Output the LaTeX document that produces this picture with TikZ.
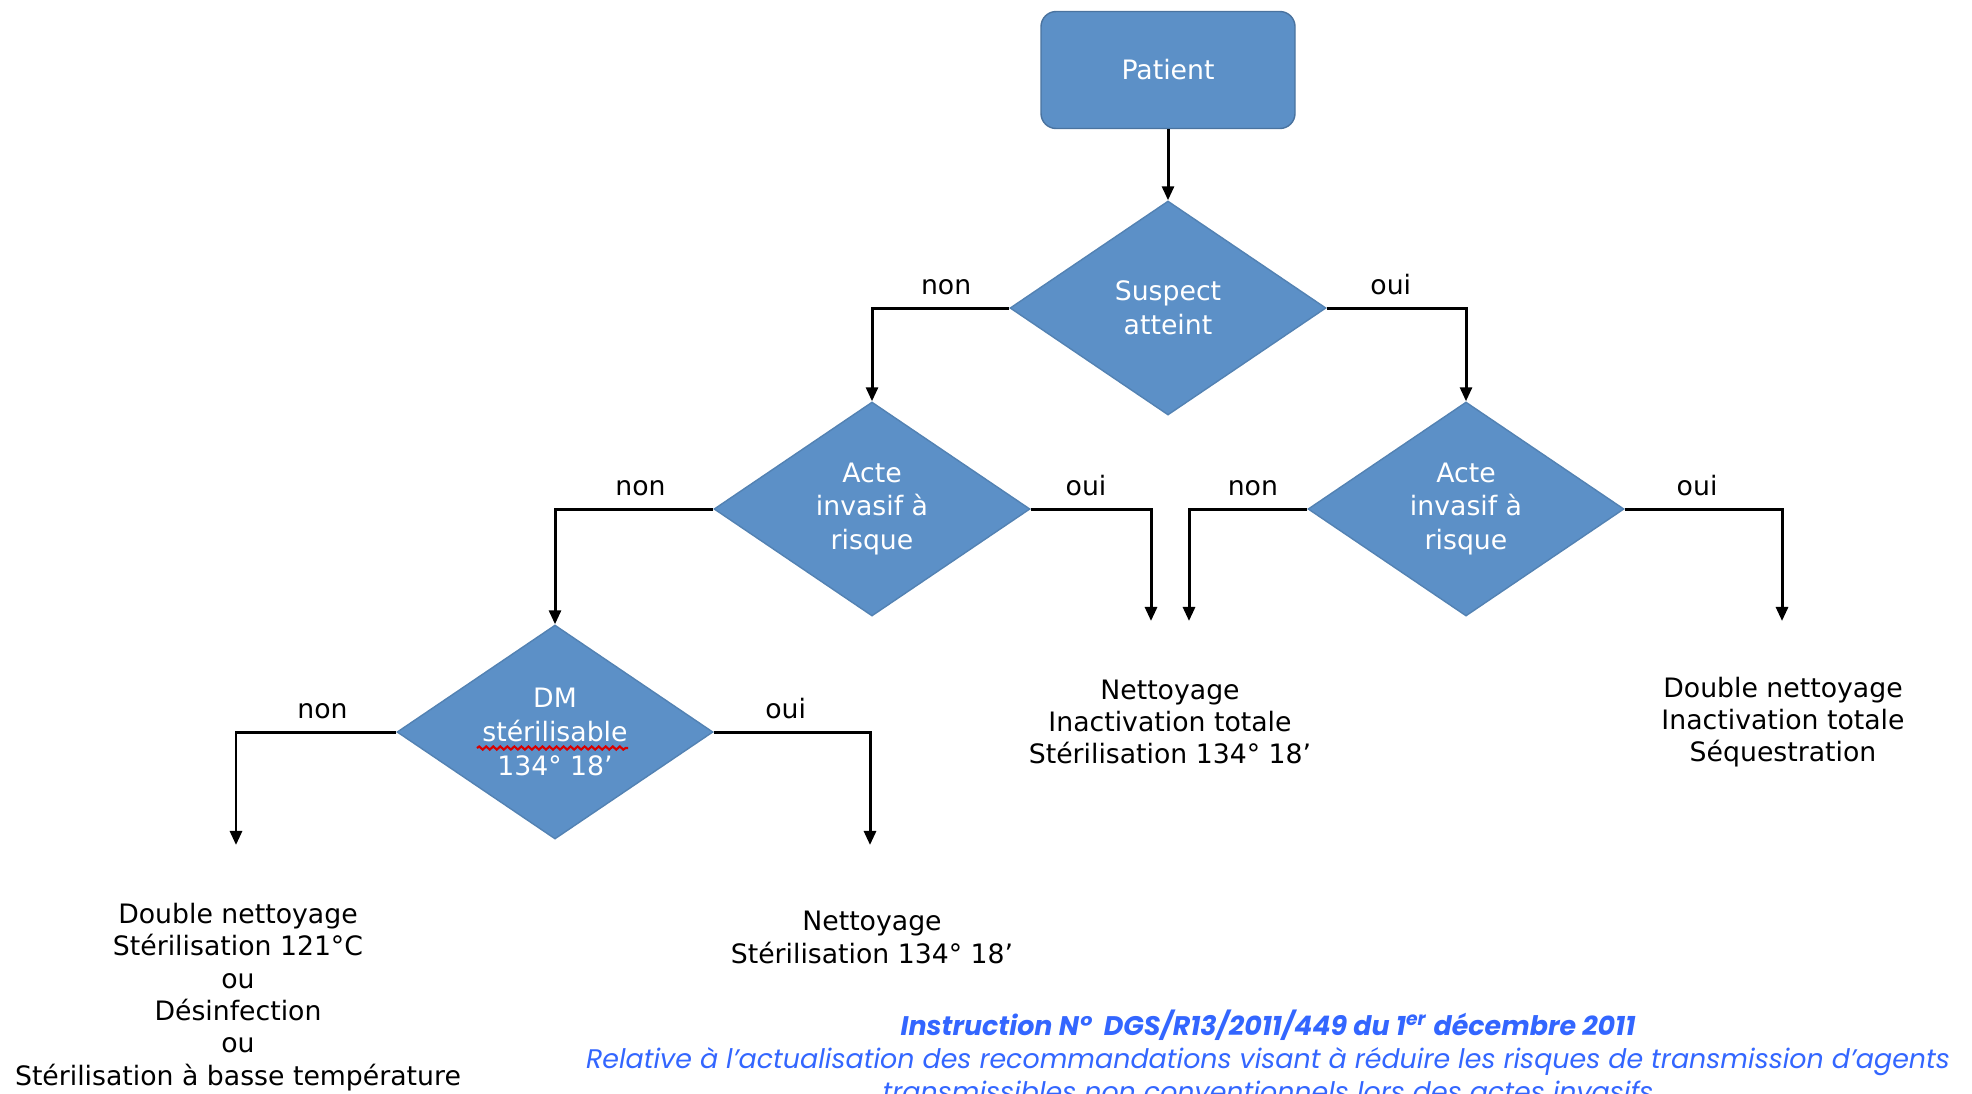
\documentclass[tikz,border=0pt]{standalone}
\usepackage{fontspec}
\setmainfont{DejaVu Sans}
\newfontfamily\notefont{Poppins}
\usepackage{tikz}
\usetikzlibrary{shapes.geometric,positioning,arrows.meta,decorations.pathmorphing}
\definecolor{boxblue}{RGB}{92,144,199}
\definecolor{noteblue}{RGB}{51,102,255}

\tikzset{
  decision/.style={diamond, aspect=1.48, fill=boxblue, draw=boxblue!90!black, inner sep=0pt,
    minimum width=3.16cm, minimum height=2.14cm, text=white, align=center,
    font=\fontsize{7.6}{9.6}\selectfont},
  startbox/.style={rectangle, rounded corners=4.3pt, fill=boxblue, draw=boxblue!80!black,
    minimum width=2.54cm, minimum height=1.17cm, text=white,
    font=\fontsize{7.6}{9.2}\selectfont},
  outcome/.style={align=center, font=\fontsize{7.6}{9.2}\selectfont},
  answer/.style={above, pos=.23, font=\fontsize{7.6}{9.2}\selectfont},
  flow/.style={->, line width=.85pt},
  spell/.style={red!85!black, line width=.6pt, decorate,
    decoration={snake, amplitude=.45pt, segment length=2pt}},
  note/.style={align=center, text=noteblue, font=\notefont\itshape\fontsize{7.65}{9.4}\selectfont},
}

\begin{document}
\begin{tikzpicture}[>={Triangle[length=4pt,width=3.4pt]}]
  \useasboundingbox (0,0) rectangle (19.72,-10.93);
  \clip (0,0) rectangle (19.72,-10.93);

  % boxes
  \node[startbox] (patient) at (11.68,-0.70) {Patient};
  \node[decision] (suspect) at (11.68,-3.08) {Suspect\\atteint};
  \node[decision] (acteL) at (8.72,-5.09) {Acte\\invasif à\\risque};
  \node[decision] (acteR) at (14.66,-5.09) {Acte\\invasif à\\risque};
  \node[decision] (dm) at (5.55,-7.32) {DM\\stérilisable\\134° 18’};
  \draw[spell] ([xshift=-.78cm,yshift=-.16cm]dm.center) -- ([xshift=.73cm,yshift=-.16cm]dm.center);

  % free ends of the arrows
  \coordinate (endLoui) at (11.51,-6.21);
  \coordinate (endRnon) at (11.89,-6.21);
  \coordinate (endRoui) at (17.82,-6.21);
  \coordinate (endDMnon) at (2.36,-8.45);
  \coordinate (endDMoui) at (8.70,-8.45);

  % arrows
  \draw[flow] (patient) -- (suspect);
  \draw[flow] (suspect.west) -| node[answer] {non} (acteL.north);
  \draw[flow] (suspect.east) -| node[answer] {oui} (acteR.north);
  \draw[flow] (acteL.west) -| node[answer] {non} (dm.north);
  \draw[flow] (acteL.east) -| node[answer] {oui} (endLoui);
  \draw[flow] (acteR.west) -| node[answer] {non} (endRnon);
  \draw[flow] (acteR.east) -| node[answer] {oui} (endRoui);
  \draw[flow] (dm.west) -| node[answer] {non} (endDMnon);
  \draw[flow] (dm.east) -| node[answer] {oui} (endDMoui);

  % what to do
  \node[outcome] (resLoui) at (11.70,-7.22) {Nettoyage\\Inactivation totale\\Stérilisation 134° 18’};
  \node[outcome] (resRoui) at (17.83,-7.22) {Double nettoyage\\Inactivation totale\\Séquestration};
  \node[outcome] (resDMoui) at (8.72,-9.375) {Nettoyage\\Stérilisation 134° 18’};
  \node[outcome] (resDMnon) at (2.38,-9.97) {Double nettoyage\\Stérilisation 121°C\\ou\\Désinfection\\ou\\Stérilisation à basse température};

  % reference text
  \node[note] (ref) at (12.68,-10.56) {{\bfseries Instruction N°~~DGS/R13/2011/449 du 1\textsuperscript{er} décembre 2011}\\
    Relative à l’actualisation des recommandations visant à réduire les risques de transmission d’agents\\
    transmissibles non conventionnels lors des actes invasifs};
\end{tikzpicture}
\end{document}
